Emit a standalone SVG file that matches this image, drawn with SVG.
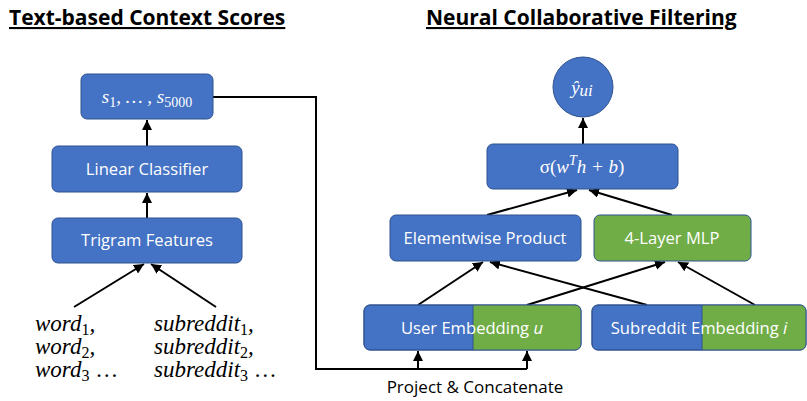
<svg xmlns="http://www.w3.org/2000/svg" width="807" height="401" viewBox="0 0 807 401">
  <defs>
    <style>
      .title { font-family: "Open Sans", "Liberation Sans", sans-serif; font-weight: bold; font-size: 21px; fill: #000; text-decoration: underline; }
      .box { fill: #4472C4; stroke: #2F528F; stroke-width: 1; }
      .green { fill: #70AD47; }
      .lbl { font-family: "Open Sans", "Liberation Sans", sans-serif; font-size: 16.6px; fill: #fff; text-anchor: middle; }
      .math { font-family: "Liberation Serif", "DejaVu Serif", serif; font-style: italic; font-size: 23px; }
      .mathw { font-family: "Liberation Serif", "DejaVu Serif", serif; font-style: italic; font-size: 19px; fill: #fff; text-anchor: middle; }
      .cap { font-family: "Open Sans", "Liberation Sans", sans-serif; font-size: 17px; fill: #000; text-anchor: middle; }
      .edge { stroke: #000; stroke-width: 2; fill: none; }
    </style>
    <marker id="arrow" viewBox="0 0 10 10" refX="10" refY="5" markerWidth="5" markerHeight="5" orient="auto" markerUnits="strokeWidth">
      <path d="M0,0 L10,5 L0,10 z" fill="#000"/>
    </marker>
    <clipPath id="clipUser"><rect x="364" y="305" width="217" height="45" rx="6"/></clipPath>
    <clipPath id="clipSub"><rect x="592" y="305" width="214" height="45" rx="6"/></clipPath>
  </defs>

  <text class="title" x="9" y="25">Text-based Context Scores</text>
  <text class="title" x="426" y="25">Neural Collaborative Filtering</text>

  <!-- connectors -->
  <g id="connectors">
    <line class="edge" x1="147" y1="146" x2="147" y2="120" marker-end="url(#arrow)"/>
    <line class="edge" x1="147" y1="218" x2="147" y2="193" marker-end="url(#arrow)"/>
    <line class="edge" x1="74" y1="307" x2="144" y2="264" marker-end="url(#arrow)"/>
    <line class="edge" x1="216" y1="307" x2="151" y2="264" marker-end="url(#arrow)"/>
    <polyline class="edge" points="213,97 316,97 316,369 527,369"/>
    <line class="edge" x1="418" y1="369" x2="418" y2="351" marker-end="url(#arrow)"/>
    <line class="edge" x1="527" y1="369" x2="527" y2="351" marker-end="url(#arrow)"/>
    <line class="edge" x1="418" y1="305" x2="483" y2="262" marker-end="url(#arrow)"/>
    <line class="edge" x1="647" y1="305" x2="490" y2="262" marker-end="url(#arrow)"/>
    <line class="edge" x1="527" y1="305" x2="665" y2="262" marker-end="url(#arrow)"/>
    <line class="edge" x1="755" y1="305" x2="678" y2="262" marker-end="url(#arrow)"/>
    <line class="edge" x1="487" y1="215" x2="577" y2="190" marker-end="url(#arrow)"/>
    <line class="edge" x1="672" y1="215" x2="589" y2="190" marker-end="url(#arrow)"/>
    <line class="edge" x1="583" y1="144" x2="583" y2="118" marker-end="url(#arrow)"/>
  </g>

  <g id="scores">
    <rect class="box" x="81" y="74" width="132" height="45" rx="6"/>
    <text class="mathw" x="147" y="103" font-size="20">s<tspan font-size="14" font-style="normal" dy="4">1</tspan><tspan dy="-4">, … , s</tspan><tspan font-size="14" font-style="normal" dy="4">5000</tspan></text>
  </g>
  <g id="linear-classifier">
    <rect class="box" x="52" y="146" width="190" height="46" rx="6"/>
    <text class="lbl" x="147" y="175">Linear Classifier</text>
  </g>
  <g id="trigram-features">
    <rect class="box" x="52" y="218" width="190" height="45" rx="6"/>
    <text class="lbl" x="147" y="246">Trigram Features</text>
  </g>

  <g id="words">
    <text class="math" x="35" y="331">word<tspan font-size="16" font-style="normal" dy="4">1</tspan><tspan dy="-4">,</tspan></text>
    <text class="math" x="35" y="354">word<tspan font-size="16" font-style="normal" dy="4">2</tspan><tspan dy="-4">,</tspan></text>
    <text class="math" x="35" y="377">word<tspan font-size="16" font-style="normal" dy="4">3</tspan><tspan dy="-4" font-style="normal"> …</tspan></text>
  </g>
  <g id="subreddits">
    <text class="math" x="154" y="331">subreddit<tspan font-size="16" font-style="normal" dy="4">1</tspan><tspan dy="-4">,</tspan></text>
    <text class="math" x="154" y="354">subreddit<tspan font-size="16" font-style="normal" dy="4">2</tspan><tspan dy="-4">,</tspan></text>
    <text class="math" x="154" y="377">subreddit<tspan font-size="16" font-style="normal" dy="4">3</tspan><tspan dy="-4" font-style="normal"> …</tspan></text>
  </g>

  <g id="prediction">
    <circle cx="583" cy="87" r="30" class="box"/>
    <text class="mathw" x="582" y="94" font-size="21">ŷ<tspan font-size="17" dy="2">ui</tspan></text>
  </g>
  <g id="output-layer">
    <rect class="box" x="487" y="144" width="191" height="45" rx="6"/>
    <text class="mathw" x="582" y="173" font-size="21"><tspan font-style="normal">σ(</tspan>w<tspan font-size="14" dy="-8">T</tspan><tspan dy="8">h + b</tspan><tspan font-style="normal">)</tspan></text>
  </g>
  <g id="elementwise-product">
    <rect class="box" x="390" y="215" width="191" height="46" rx="6"/>
    <text class="lbl" x="485" y="244">Elementwise Product</text>
  </g>
  <g id="mlp">
    <rect class="box green" x="594" y="215" width="157" height="46" rx="6" stroke="#507E32"/>
    <text class="lbl" x="672" y="244">4-Layer MLP</text>
  </g>
  <g id="user-embedding">
    <rect class="box" x="364" y="305" width="217" height="45" rx="6"/>
    <rect class="green" x="473" y="305" width="110" height="46" clip-path="url(#clipUser)"/>
    <line x1="473" y1="305" x2="473" y2="350" stroke="#2F528F" stroke-width="1"/>
    <rect x="364" y="305" width="217" height="45" rx="6" fill="none" stroke="#2F528F"/>
    <text class="lbl" x="472" y="334">User Embedding <tspan font-style="italic">u</tspan></text>
  </g>
  <g id="subreddit-embedding">
    <rect class="box" x="592" y="305" width="214" height="45" rx="6"/>
    <rect class="green" x="702" y="305" width="105" height="46" clip-path="url(#clipSub)"/>
    <line x1="702" y1="305" x2="702" y2="350" stroke="#2F528F" stroke-width="1"/>
    <rect x="592" y="305" width="214" height="45" rx="6" fill="none" stroke="#2F528F"/>
    <text class="lbl" x="699" y="334">Subreddit Embedding <tspan font-style="italic">i</tspan></text>
  </g>

  <text class="cap" x="475" y="393">Project &amp; Concatenate</text>
</svg>
